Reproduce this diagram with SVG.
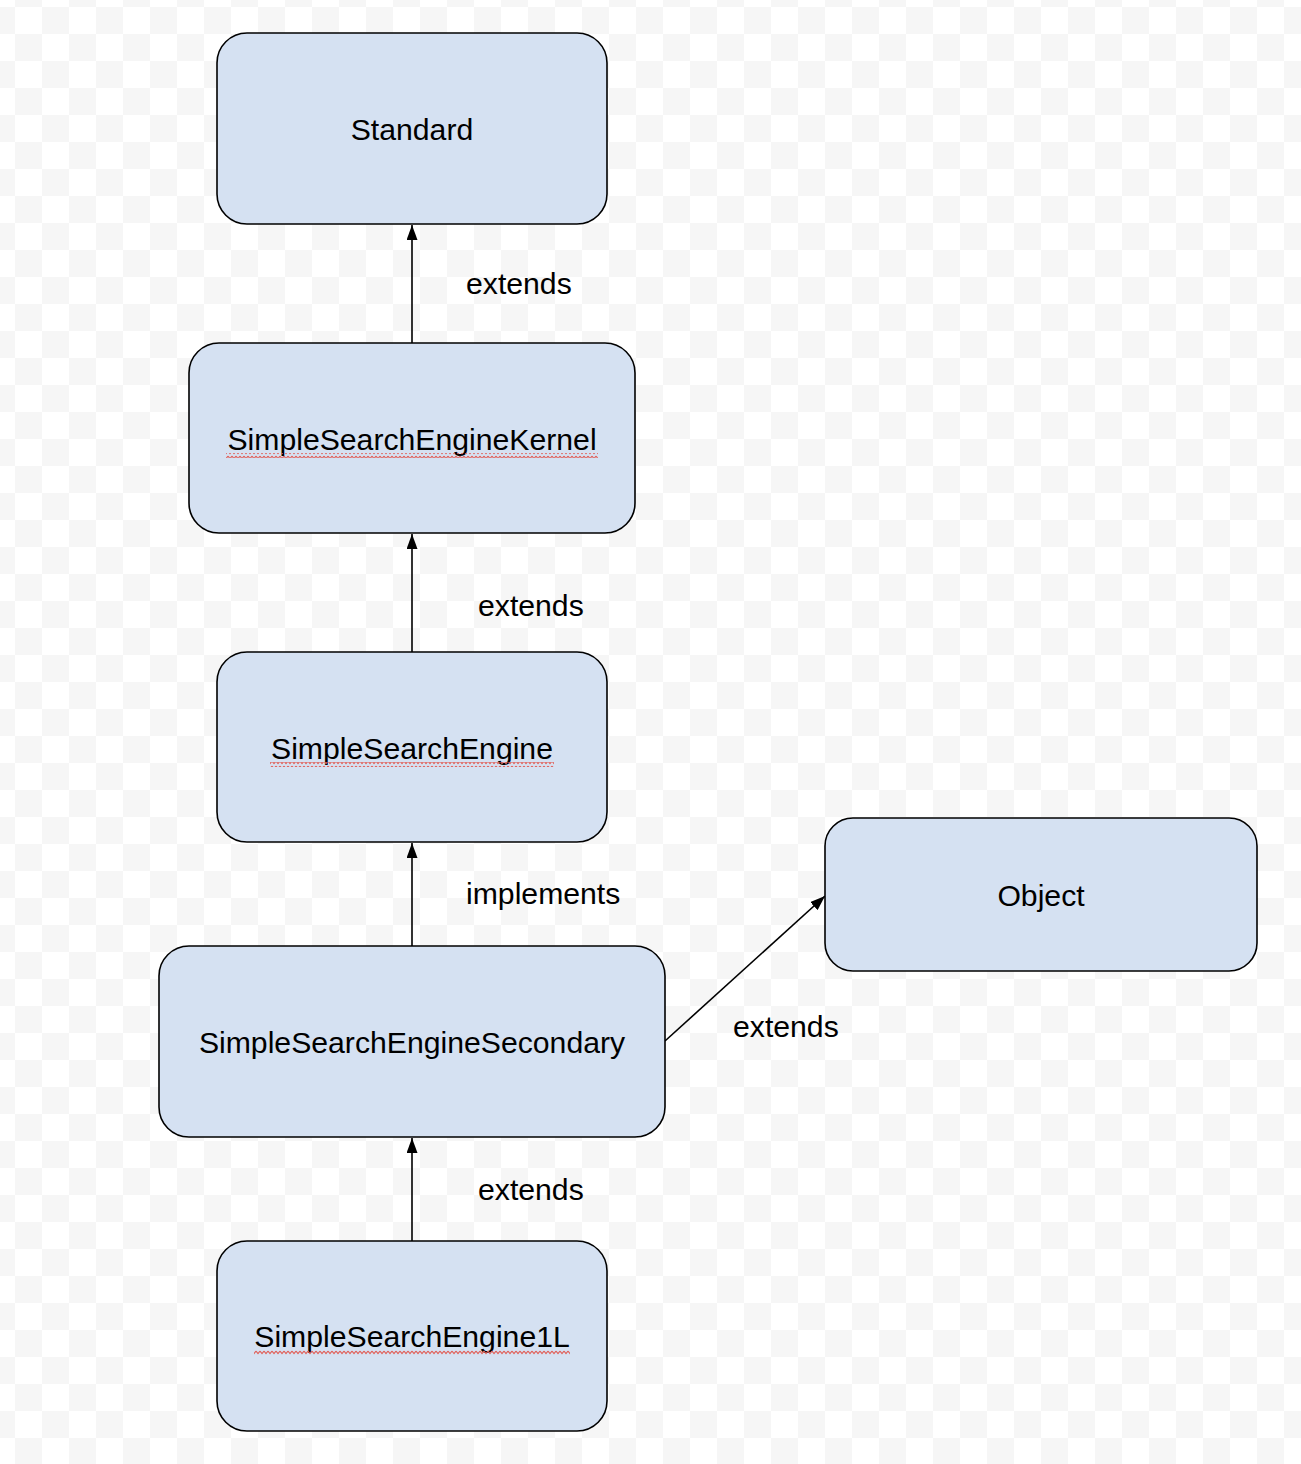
<svg xmlns="http://www.w3.org/2000/svg" width="1301" height="1464" viewBox="0 0 1301 1464">
  <defs>
    <pattern id="checker" x="15" y="7" width="54" height="54" patternUnits="userSpaceOnUse">
      <rect width="54" height="54" fill="#ffffff"/>
      <rect x="27" y="0" width="27" height="27" fill="#f6f6f6"/>
      <rect x="0" y="27" width="27" height="27" fill="#f6f6f6"/>
    </pattern>
    <!-- wavy spell-check underline, tiled horizontally -->
    <pattern id="wave" x="0" y="0" width="4" height="5" patternUnits="userSpaceOnUse">
      <path d="M0,1 L2,3.5 L4,1" stroke="#e0605a" stroke-width="1.2" fill="none"/>
    </pattern>
    <marker id="arrow" viewBox="0 0 15 11" refX="15" refY="5.5" markerWidth="15" markerHeight="11" markerUnits="userSpaceOnUse" orient="auto">
      <path d="M0,0 L15,5.5 L0,11 Z" fill="#000"/>
    </marker>
  </defs>
  <style>
    .box { fill: #d5e1f2; stroke: #000; stroke-width: 1.6; }
    .label { font-family: "Liberation Sans", Arial, sans-serif; font-size: 30.2px; fill: #000; }
    .mid { text-anchor: middle; }
    .edge { stroke: #000; stroke-width: 1.6; fill: none; marker-end: url(#arrow); }
    .squiggle { fill: url(#wave); }
  </style>

  <rect width="1301" height="1464" fill="url(#checker)"/>

  <g id="connectors">
    <line class="edge" x1="412" y1="343" x2="412" y2="225"/>
    <line class="edge" x1="412" y1="652" x2="412" y2="534"/>
    <line class="edge" x1="412" y1="946" x2="412" y2="843"/>
    <line class="edge" x1="412" y1="1241" x2="412" y2="1138"/>
    <line class="edge" x1="665" y1="1041" x2="825" y2="896"/>
    <text class="label" x="466" y="294">extends</text>
    <text class="label" x="478" y="616">extends</text>
    <text class="label" x="466" y="904">implements</text>
    <text class="label" x="733" y="1037">extends</text>
    <text class="label" x="478" y="1200">extends</text>
  </g>

  <g id="node-standard">
    <rect class="box" x="217" y="33" width="390" height="191" rx="30"/>
    <text class="label mid" x="412" y="140">Standard</text>
  </g>

  <g id="node-kernel">
    <rect class="box" x="189" y="343" width="446" height="190" rx="30"/>
    <text class="label mid" x="412" y="450">SimpleSearchEngineKernel</text>
    <rect class="squiggle" x="226" y="453" width="372" height="5"/>
  </g>

  <g id="node-engine">
    <rect class="box" x="217" y="652" width="390" height="190" rx="30"/>
    <text class="label mid" x="412" y="759">SimpleSearchEngine</text>
    <rect class="squiggle" x="270" y="762" width="284" height="5"/>
  </g>

  <g id="node-secondary">
    <rect class="box" x="159" y="946" width="506" height="191" rx="30"/>
    <text class="label mid" x="412" y="1053">SimpleSearchEngineSecondary</text>
  </g>

  <g id="node-1l">
    <rect class="box" x="217" y="1241" width="390" height="190" rx="30"/>
    <text class="label mid" x="412" y="1347">SimpleSearchEngine1L</text>
    <rect class="squiggle" x="254" y="1350" width="316" height="5"/>
  </g>

  <g id="node-object">
    <rect class="box" x="825" y="818" width="432" height="153" rx="28"/>
    <text class="label mid" x="1041" y="906">Object</text>
  </g>
</svg>
